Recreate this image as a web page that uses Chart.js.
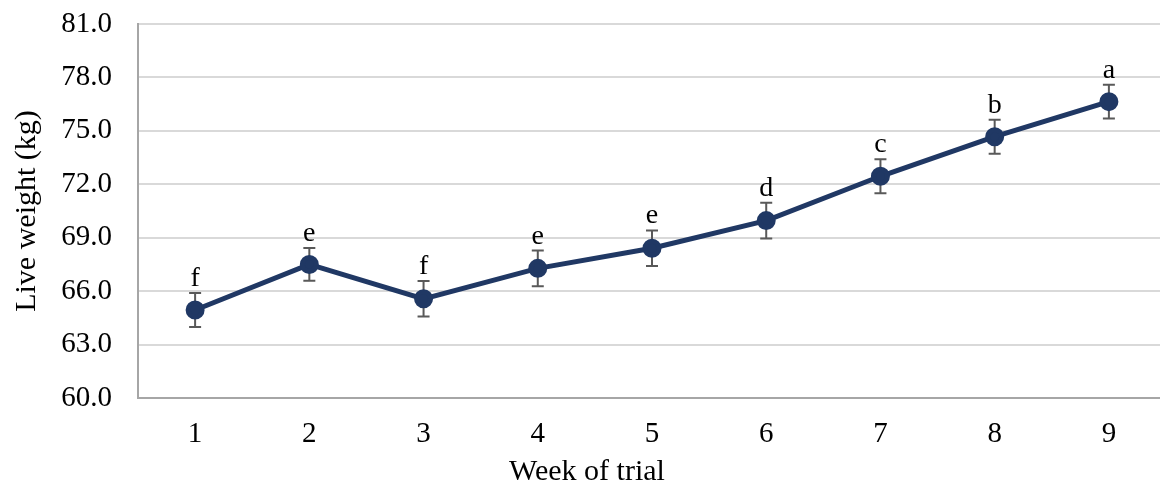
<!DOCTYPE html>
<html>
<head>
<meta charset="utf-8">
<script src="https://cdn.jsdelivr.net/npm/chart.js@4/dist/chart.umd.min.js"></script>
<style>
  html, body { margin: 0; padding: 0; background: #fff; overflow: hidden; }
  #wrap { width: 1178px; height: 484px; }
</style>
</head>
<body>
<div id="wrap"><canvas id="weightChart" width="1178" height="484"></canvas></div>
<script>
// data
var weeks = ['1', '2', '3', '4', '5', '6', '7', '8', '9'];
var liveWeight = [64.94, 67.50, 65.57, 67.28, 68.41, 69.96, 72.45, 74.67, 76.64];
var weightErr = [0.95, 0.92, 1.0, 1.0, 1.0, 1.0, 0.95, 0.95, 0.95];
var sigLetters = ['f', 'e', 'f', 'e', 'e', 'd', 'c', 'b', 'a'];
var yMin = 60, yMax = 81, yStep = 3;
var xTitle = 'Week of trial';

var serif = "'Liberation Serif', 'Times New Roman', serif";
var tickPx = 29, titlePx = 30, letterPx = 28;

// error bars under the line, letters on top
var errorBars = {
  id: 'errorBars',
  beforeDatasetsDraw: function (chart) {
    var ctx = chart.ctx, x = chart.scales.x, y = chart.scales.y;
    ctx.save();
    ctx.strokeStyle = '#595959';
    ctx.lineWidth = 2;
    liveWeight.forEach(function (v, i) {
      var px = x.getPixelForValue(i);
      var top = y.getPixelForValue(v + weightErr[i]);
      var bot = y.getPixelForValue(v - weightErr[i]);
      ctx.beginPath();
      ctx.moveTo(px, top); ctx.lineTo(px, bot);
      ctx.moveTo(px - 6, top); ctx.lineTo(px + 6, top);
      ctx.moveTo(px - 6, bot); ctx.lineTo(px + 6, bot);
      ctx.stroke();
    });
    ctx.restore();
  },
  afterDatasetsDraw: function (chart) {
    var ctx = chart.ctx, x = chart.scales.x, y = chart.scales.y;
    ctx.save();
    ctx.fillStyle = '#000';
    ctx.font = letterPx + 'px ' + serif;
    ctx.textAlign = 'center';
    ctx.textBaseline = 'alphabetic';
    liveWeight.forEach(function (v, i) {
      var px = x.getPixelForValue(i);
      var top = y.getPixelForValue(v + weightErr[i]);
      ctx.fillText(sigLetters[i], px, top - 7);
    });
    // x title sits left of the plot centre in the original (figure was cropped on the right)
    ctx.font = titlePx + 'px ' + serif;
    ctx.fillText(xTitle, 587, 480);
    ctx.restore();
  }
};

new Chart(document.getElementById('weightChart'), {
  type: 'line',
  data: {
    labels: weeks,
    datasets: [{
      data: liveWeight,
      borderColor: '#203864',
      backgroundColor: '#203864',
      borderWidth: 5,
      pointRadius: 7,
      pointHoverRadius: 7,
      pointBackgroundColor: '#203864',
      pointBorderColor: '#203864',
      tension: 0
    }]
  },
  options: {
    responsive: false,
    animation: false,
    layout: { padding: { top: 24, right: 1, left: 0, bottom: 0 } },
    plugins: { legend: { display: false }, tooltip: { enabled: false } },
    scales: {
      x: {
        offset: true,
        grid: { display: false },
        border: { display: true, color: '#a6a6a6', width: 2 },
        ticks: { color: '#000', font: { family: serif, size: tickPx }, padding: 11 },
        afterFit: function (s) { s.height = 86; s.paddingLeft = 0; s.paddingRight = 0; }
      },
      y: {
        min: yMin, max: yMax,
        grid: { color: '#d9d9d9', lineWidth: 2, drawTicks: false },
        border: { display: true, color: '#a6a6a6', width: 2 },
        ticks: {
          stepSize: yStep, color: '#000', padding: 26,
          font: { family: serif, size: tickPx },
          callback: function (v) { return v.toFixed(1); }
        },
        title: {
          display: true, text: 'Live weight (kg)', color: '#000',
          font: { family: serif, size: titlePx }, padding: { top: 9, bottom: 0 }
        },
        afterFit: function (s) { s.width = 138; s.paddingTop = 0; s.paddingBottom = 0; }
      }
    }
  },
  plugins: [errorBars]
});
</script>
</body>
</html>
